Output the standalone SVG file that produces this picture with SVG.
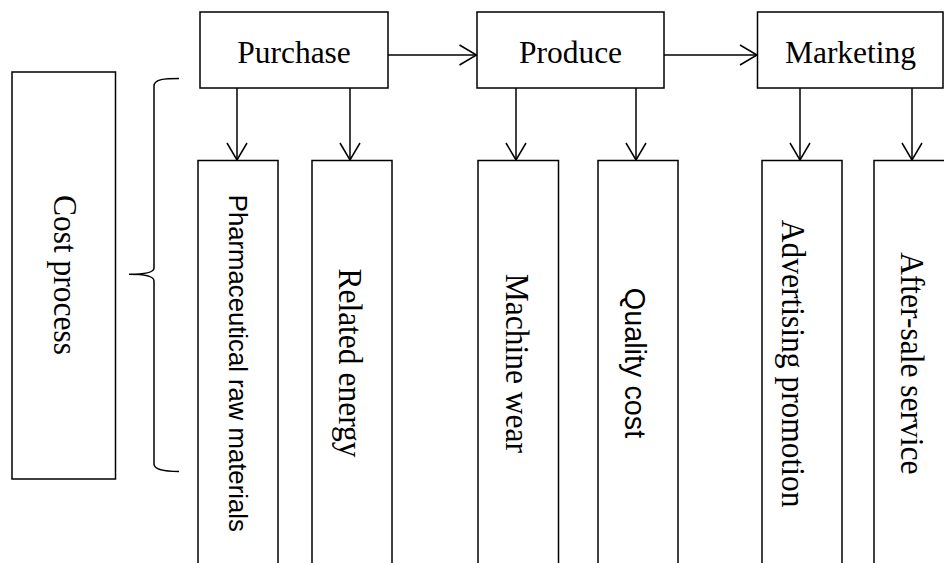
<svg xmlns="http://www.w3.org/2000/svg" width="944" height="563" viewBox="0 0 944 563">
<style>
.box{fill:#fff;stroke:#000;stroke-width:1.5}
.ser{font-family:"Liberation Serif","Times New Roman",serif;font-size:31.5px;fill:#000}
.sans{font-family:"Liberation Sans",Arial,sans-serif;fill:#000}
.con{fill:none;stroke:#000;stroke-width:1.5}
</style>
<defs>
<marker id="arr" markerUnits="userSpaceOnUse" markerWidth="40" markerHeight="40" viewBox="-20 -20 40 40" refX="0" refY="0" orient="auto">
<path d="M-17,-10 L0,0 L-17,10" fill="none" stroke="#000" stroke-width="1.5"/>
</marker>
</defs>
<rect width="944" height="563" fill="#fff"/>
<g id="connectors">
<line class="con" x1="388" y1="55" x2="476.5" y2="55" marker-end="url(#arr)"/>
<line class="con" x1="664" y1="55" x2="757" y2="55" marker-end="url(#arr)"/>
<line class="con" x1="237" y1="88" x2="237" y2="160" marker-end="url(#arr)"/>
<line class="con" x1="350" y1="88" x2="350" y2="160" marker-end="url(#arr)"/>
<line class="con" x1="516" y1="88" x2="516" y2="160" marker-end="url(#arr)"/>
<line class="con" x1="636" y1="88" x2="636" y2="160" marker-end="url(#arr)"/>
<line class="con" x1="800" y1="88" x2="800" y2="160" marker-end="url(#arr)"/>
<line class="con" x1="912" y1="88" x2="912" y2="160" marker-end="url(#arr)"/>
<path class="con" d="M179,78.5 C165,78.5 154,79 154,86 L154,268 C154,272 145,274.3 129,274.3 C145,274.3 154,276 154,281 L154,464 C154,470 165,471.5 179,471.5"/>
</g>
<g id="purchase"><rect class="box" x="200" y="12" width="188" height="76"/><text class="ser" x="294" y="62.5" text-anchor="middle">Purchase</text></g>
<g id="produce"><rect class="box" x="477" y="12" width="187" height="76"/><text class="ser" x="570.5" y="62.5" text-anchor="middle">Produce</text></g>
<g id="marketing"><rect class="box" x="757.5" y="12" width="185.5" height="76"/><text class="ser" x="850.5" y="62.5" text-anchor="middle">Marketing</text></g>
<g id="cost-process"><rect class="box" x="12" y="72" width="103.5" height="407"/><text class="ser" transform="translate(53.5,275) rotate(90) scale(1,1.1)" text-anchor="middle">Cost process</text></g>
<g id="pharma"><rect class="box" x="198" y="160.5" width="80" height="420"/><text class="sans" style="font-size:25.7px" transform="translate(228.5,363.3) rotate(90)" text-anchor="middle">Pharmaceutical raw materials</text></g>
<g id="energy"><rect class="box" x="312" y="160.5" width="80" height="420"/><text class="ser" transform="translate(339,363) rotate(90) scale(1,1.1)" text-anchor="middle">Related energy</text></g>
<g id="machine"><rect class="box" x="478" y="160.5" width="80.5" height="420"/><text class="ser" transform="translate(506,363.3) rotate(90) scale(1,1.1)" text-anchor="middle">Machine wear</text></g>
<g id="quality"><rect class="box" x="598" y="160.5" width="80" height="420"/><text class="sans" style="font-size:28.8px" transform="translate(624.5,363) rotate(90)" text-anchor="middle">Quality cost</text></g>
<g id="advertising"><rect class="box" x="762" y="160.5" width="80" height="420"/><text class="ser" transform="translate(782,363.7) rotate(90) scale(1,1.1)" text-anchor="middle">Advertising promotion</text></g>
<g id="aftersale"><rect class="box" x="874" y="160.5" width="80" height="420"/><text class="ser" transform="translate(900.5,363.3) rotate(90) scale(1,1.1)" text-anchor="middle">After-sale service</text></g>
</svg>
